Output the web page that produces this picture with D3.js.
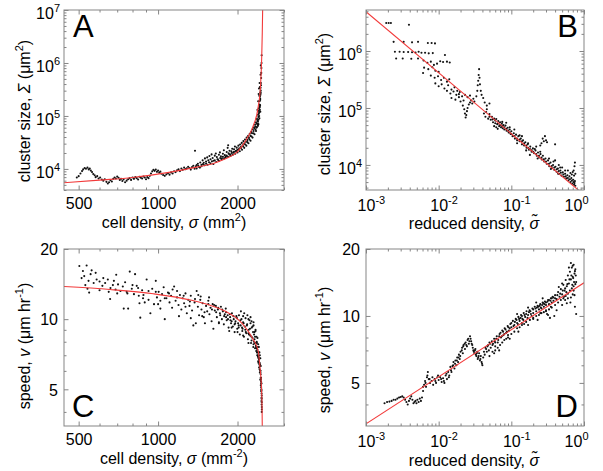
<!DOCTYPE html>
<html><head><meta charset="utf-8">
<script src="https://cdn.jsdelivr.net/npm/d3@7"></script>
<style>
body{margin:0;background:#fff}
text{font-family:"Liberation Sans",Arial,Helvetica,sans-serif;fill:#000}
</style>
</head><body>
<svg id="chart" width="603" height="471"></svg>
<script>
// ---------- DATA ----------
// Panel A: cell density (mm^-2) vs cluster size (um^2)
const clusterVsDensity = [
[492,6900],[500,7300],[508,8200],[515,9100],[520,9800],[527,10400],[533,10100],[540,10600],[546,9800],[551,10200],[556,9300],[562,8700],[568,8000],[575,7600],[580,7000],[588,7300],[595,6600],[603,6900],[612,6300],[620,6000],[628,6400],[637,5700],[645,5300],[652,5600],[660,6100],[668,5800],[676,6500],[684,6900],[692,6600],[700,7200],[708,6800],[716,6200],[724,6500],[732,5900],[740,6300],[750,5600],[760,6000],[770,6400],[780,6700],[790,6200],[800,6900],[810,6500],[820,7000],[830,6700],[840,6300],[850,7100],[860,6800],[870,6600],[880,7200],[890,6900],[900,6400],[910,7000],[920,6700],[930,7400],[940,8200],[950,9000],[960,9600],[970,9200],[980,9700],[990,8800],[1000,9300],[1010,8500],[1020,8900],[1030,8100],[1045,7700],[1060,7400],[1075,7900],[1090,8300],[1105,7800],[1120,8600],[1135,8200],[1150,9000],[1165,8700],[1180,9400],[1195,9800],[1210,9100],[1225,10200],[1240,9600],[1255,10600],[1270,9900],[1285,10300],[1300,11000],[1315,10400],[1330,9700],[1345,10800],[1360,11500],[1375,10100],[1380,22000],[1390,11200],
[1400,11800],[1415,12500],[1430,10900],[1445,13200],[1460,12000],[1475,14500],[1490,13100],[1505,15800],[1520,13800],[1535,16500],[1550,14600],[1565,17500],[1580,15200],[1595,18800],[1610,16100],[1625,14300],[1640,17800],[1655,19600],[1670,16700],[1685,15000],[1700,18500],[1715,20500],[1730,17300],[1745,15800],[1760,19300],[1775,22500],[1790,18200],[1805,16900],[1820,20800],[1835,25000],[1843,28000],[1850,19800],[1865,22000],[1880,18600],[1895,21500],[1910,24000],[1925,20300],[1940,23500],[1955,26500],[1970,21800],[1985,25200],[2000,23000],[2015,27500],[2030,24500],[2045,29000],[2060,26000],[2075,31000],[2090,28000],[2105,33500],[2120,30000],[2135,36000],[2150,32500],[2165,39000],[2180,35000],[2195,42000],[2210,38500],[2225,46000],[2240,42000],[2255,50000],[2270,47000],[2285,56000],[2300,52000],[2310,61000],[2320,58000],[2330,68000],[2340,63000],[2350,76000],[2360,72000],[2370,88000],[2380,82000],[2390,105000],[2400,96000],[2405,125000],[2410,140000],[2415,118000],[2420,165000],[2425,190000],[2428,150000],[2432,230000],[2436,200000],[2440,280000],[2443,250000],[2446,340000],[2449,300000],[2452,420000],[2455,380000],[2458,520000],[2460,650000],[2463,800000],[2466,1000000],[2468,1400000],
[2380,130000],[2395,190000],[2405,260000],[2412,330000],[2418,240000],[2425,420000],[2430,350000],[2400,70000],[2390,65000],[2420,90000],[2435,160000],[2445,600000],[2450,900000],[2440,120000],
[1400,10200],[1420,11500],[1440,10600],[1460,11200],[1480,12300],[1500,11700],[1520,12600],[1540,12000],[1560,13400],[1580,12800],[1600,13900],[1620,12400],[1640,14600],[1660,13500],[1680,15200],[1700,14300],[1720,16000],[1740,15100],[1760,17000],[1780,15800],[1800,16500],[1820,17800],[1840,16900],[1860,18900],[1880,17600],[1900,20000],[1920,18500],[1940,21000],[1960,19400],[1980,22000],[2000,20500],[2020,23200],[2040,21600],[2060,24500],[2080,23000],[2100,26500],[2120,25000],[2140,29000],[2160,27500],[2180,32000],[2200,30500],[2220,36000],[2240,34000],[2260,41000],[2280,39000],[2300,47000],[2320,45000],[2340,55000],[2360,60000],[2380,70000],[2400,85000],[2415,100000],[2430,130000],[2350,52000],[2370,62000],[2390,78000],[2410,110000],[2425,145000],[2438,210000],[2448,270000]
];
const clusterFit = [[440,5470],[600,6150],[800,6900],[942,7650],[1100,8600],[1244,9600],[1400,10800],[1619,12700],[1800,15500],[2000,21100],[2153,35000],[2287,62600],[2396,150000],[2447,410000],[2470,1300000],[2482,3700000],[2490,10000000]];

// Panel B: reduced density vs cluster size
const clusterVsReduced = [
[0.0019,3.1e6],[0.00205,3.1e6],[0.0022,3.1e6],[0.0039,2.9e6],
[0.0024,1.45e6],[0.0033,1.45e6],[0.0043,1.42e6],[0.0052,1.45e6],[0.0071,1.38e6],[0.0080,1.38e6],[0.0089,1.36e6],
[0.0025,9.7e5],[0.0029,9.7e5],[0.0033,9.6e5],[0.0038,9.6e5],[0.0043,9.5e5],[0.0048,9.4e5],[0.0053,9.7e5],[0.0058,9.3e5],[0.0065,9.3e5],[0.0073,9.1e5],[0.0083,9.2e5],
[0.0026,7.4e5],[0.0032,7.4e5],[0.0042,7.3e5],[0.0052,7.4e5],
[0.0122,8.5e5],[0.0105,6.6e5],[0.0115,6.4e5],[0.013,6.5e5],[0.0142,6.3e5],
[0.0062,6.8e5],[0.0070,6.2e5],[0.0078,6.5e5],[0.0086,5.7e5],[0.0095,6.0e5],
[0.0063,5.1e5],[0.0072,4.8e5],[0.0082,5.2e5],[0.0090,4.5e5],[0.0061,4.1e5],[0.010,4.3e5],
[0.0078,3.7e5],[0.0088,3.4e5],[0.0098,3.6e5],[0.0108,3.1e5],[0.0118,3.4e5],[0.013,2.9e5],[0.014,3.2e5],
[0.009,2.7e5],[0.010,2.4e5],[0.011,2.6e5],[0.012,2.2e5],[0.0135,2.5e5],[0.015,2.1e5],[0.0165,2.3e5],[0.018,2.0e5],[0.0195,1.9e5],
[0.013,2.0e5],[0.0145,1.8e5],[0.016,1.95e5],[0.0175,1.7e5],[0.019,1.75e5],[0.021,1.6e5],[0.023,1.7e5],[0.025,1.55e5],[0.027,1.65e5],
[0.015,1.5e5],[0.017,1.4e5],[0.019,1.55e5],[0.022,1.35e5],[0.020,1.3e5],
[0.0215,1.1e5],[0.0225,9.5e4],[0.023,8.0e4],[0.0235,6.8e4],[0.024,7.5e4],[0.0245,8.8e4],[0.025,1.0e5],[0.026,1.15e5],[0.027,1.25e5],[0.028,1.35e5],[0.029,1.2e5],[0.030,1.45e5],[0.031,1.3e5],
[0.033,1.6e5],[0.034,2.0e5],[0.0345,2.5e5],[0.035,3.0e5],[0.0355,3.8e5],[0.036,4.8e5],[0.0365,3.4e5],[0.037,2.6e5],[0.038,2.0e5],[0.039,1.7e5],[0.041,1.5e5],[0.043,1.25e5],[0.046,1.1e5],[0.050,1.2e5],
[0.042,8.0e4],[0.044,7.0e4],[0.046,9.5e4],[0.048,6.5e4],[0.05,7.8e4],[0.052,6.2e4],[0.054,7.0e4],[0.056,5.6e4],[0.058,6.5e4],[0.06,5.4e4],[0.062,6.4e4],[0.064,5.2e4],[0.066,5.9e4],[0.068,4.8e4],[0.07,5.6e4],[0.072,4.6e4],[0.074,5.3e4],[0.076,4.4e4],[0.078,5.0e4],[0.08,4.2e4],[0.083,4.9e4],[0.086,4.0e4],[0.089,4.5e4],[0.092,3.7e4],[0.095,4.2e4],[0.098,3.5e4],[0.1,3.9e4],[0.104,3.2e4],[0.108,3.6e4],[0.112,2.9e4],[0.116,3.4e4],[0.12,2.7e4],[0.125,3.2e4],[0.13,2.6e4],[0.135,2.9e4],[0.14,2.3e4],[0.145,2.7e4],[0.15,2.2e4],[0.156,2.5e4],[0.162,2.0e4],[0.168,2.3e4],[0.175,1.85e4],[0.182,2.1e4],[0.19,1.7e4],[0.198,1.95e4],[0.206,1.6e4],[0.215,1.8e4],[0.224,1.45e4],[0.233,1.65e4],[0.242,1.35e4],[0.252,1.55e4],[0.262,1.25e4],[0.272,1.45e4],[0.283,1.15e4],[0.295,1.3e4],[0.307,1.05e4],[0.32,1.2e4],[0.333,9.5e3],[0.346,1.1e4],[0.36,8.8e3],[0.375,1.0e4],[0.39,8.2e3],[0.405,9.3e3],[0.42,7.6e3],[0.437,8.6e3],[0.455,7.0e3],[0.473,8.0e3],[0.49,6.5e3],[0.51,7.4e3],[0.53,6.2e3],[0.55,7.0e3],[0.57,5.8e3],[0.59,6.6e3],[0.61,5.4e3],[0.63,6.3e3],[0.65,5.0e3],[0.67,5.9e3],[0.69,4.7e3],[0.71,5.5e3],[0.73,4.5e3],[0.75,5.2e3],[0.76,4.3e3],
[0.26,2.4e4],[0.27,2.9e4],[0.28,2.6e4],[0.29,3.2e4],[0.30,2.7e4],[0.31,2.5e4],[0.25,2.2e4],[0.40,2.3e4],
[0.72,8.0e3],[0.74,9.5e3],[0.75,1.1e4],[0.76,7.0e3],[0.73,6.5e3],[0.70,7.5e3],[0.68,6.8e3],
[0.065,4.3e4],[0.085,5.5e4],[0.11,4.2e4],[0.14,3.2e4],[0.18,1.5e4],[0.22,2.1e4],[0.40,1.2e4],[0.45,1.0e4],[0.50,9.0e3],[0.60,8.0e3],[0.058,4.8e4],
[0.045,8.5e4],[0.05,7.0e4],[0.055,6.3e4],[0.06,6.0e4],[0.065,5.3e4],[0.07,5.0e4],[0.075,4.8e4],[0.08,4.6e4],[0.085,4.3e4],[0.09,4.0e4],[0.095,3.7e4],[0.1,3.5e4],[0.11,3.2e4],[0.12,2.9e4],[0.13,2.8e4],[0.14,2.6e4],[0.15,2.4e4],[0.16,2.2e4],[0.17,2.0e4],[0.18,1.9e4],[0.19,1.8e4],[0.2,1.7e4],[0.22,1.55e4],[0.24,1.45e4],[0.26,1.35e4],[0.28,1.25e4],[0.3,1.15e4],[0.33,1.05e4],[0.36,9.6e3],[0.39,9.0e3],[0.42,8.4e3],[0.45,7.8e3],[0.48,7.3e3],[0.52,6.8e3],[0.56,6.3e3],[0.6,5.9e3],[0.64,5.6e3],[0.68,5.3e3],[0.72,5.0e3],[0.74,4.8e3],[0.075,5.7e4],[0.095,4.6e4],[0.13,3.3e4],[0.17,2.4e4],[0.21,1.9e4],[0.25,1.7e4],[0.33,1.3e4],[0.38,1.15e4],[0.47,9.0e3],[0.55,8.0e3],[0.65,7.2e3],[0.062,4.6e4],[0.12,2.4e4],[0.16,1.8e4],[0.23,1.3e4],[0.35,8.5e3],[0.44,7.0e3]
];
const clusterPowerFit = [[0.001,4.9e6],[1,2990]];

// Panel C: cell density vs speed (um/hr)
const speedVsDensity = [
[503,16.9],[536,17.0],[560,16.2],[519,16.1],[525,15.3],[513,15.0],[545,14.6],[570,14.3],[585,14.8],[530,14.0],[548,13.0],[600,14.5],[615,13.9],[630,14.3],[645,14.8],[658,12.2],[660,13.6],[674,14.0],[690,13.4],[694,15.5],[705,14.1],[720,13.2],[735,13.8],[741,11.1],[750,14.4],[765,12.9],[770,11.1],[781,16.0],[795,13.5],[810,12.8],[818,15.6],[830,13.9],[845,12.6],[856,10.15],[870,13.3],[877,12.3],[890,11.8],[905,14.8],[920,12.1],[935,10.6],[950,13.5],[965,11.6],[980,14.6],[990,12.4],[1005,13.1],[1020,11.1],[1035,12.8],[1050,13.7],[1060,10.0],[1075,12.3],[1090,13.0],[1105,11.8],[1120,12.6],[1135,13.4],[1150,13.8],[1165,12.0],[1180,13.2],[1195,11.5],[1210,12.7],[1225,11.0],[1240,12.3],[1255,11.7],[1270,12.9],[1285,10.6],[1300,12.1],[1315,11.4],[1330,12.6],[1345,10.9],[1360,9.4],[1375,11.8],[1390,9.6],[1400,13.2],[1415,11.3],[1430,10.4],[1445,12.1],[1460,11.0],[1475,11.7],[1490,10.2],[1505,9.6],[1520,11.4],[1535,10.8],[1550,12.0],[1565,10.5],[1580,11.2],[1595,9.8],[1610,11.6],[1620,9.1],[1640,10.9],[1655,11.4],[1670,10.2],[1685,11.0],[1700,9.7],[1715,10.6],[1730,11.3],[1745,10.0],[1760,10.8],[1775,9.5],[1790,10.5],[1805,11.1],[1820,9.9],[1835,10.4],[1850,9.2],[1860,8.9],[1875,10.2],[1890,9.6],[1905,10.6],[1920,9.3],[1935,10.0],[1950,8.8],[1965,9.8],[1980,10.3],[1995,9.1],[2010,9.6],[2025,10.4],[2040,8.6],[2055,9.4],[2070,10.0],[2085,8.9],[2100,9.7],[2115,8.4],[2130,9.3],[2145,10.1],[2160,8.7],[2175,9.5],[2190,8.2],[2205,9.0],[2220,9.9],[2235,8.5],[2250,7.9],[2265,9.2],[2280,8.3],[2295,7.6],[2310,8.6],[2325,7.9],[2340,8.9],[2355,7.3],[2365,8.0],[2375,7.0],[2385,7.6],[2395,6.6],[2405,7.2],[2415,6.2],[2420,6.8],[2430,5.9],[2435,6.4],[2440,5.5],[2445,6.0],[2450,5.2],[2455,5.6],[2460,4.9],[2463,5.3],[2466,4.6],[2468,4.3],[2470,4.0],[2465,4.45],
[1810,10.2],[1880,9.9],[1950,9.5],[2020,9.2],[2090,9.1],[2150,8.8],[2210,8.6],[2260,8.1],[2300,7.8],[2330,7.5],[2350,7.7],[2370,7.2],[2390,6.9],[2400,6.5],[2425,6.1],[2447,5.8],[2458,5.1],[2470,4.7],[2472,4.2],[2100,10.3],[2200,10.0],[2240,9.6],[2280,9.3],[2320,8.8],[2260,9.8],[2300,9.4],
[1600,11.0],[1630,11.5],[1660,10.7],[1690,11.2],[1720,10.4],[1750,11.0],[1780,10.3],[1810,10.7],[1840,10.0],[1870,10.5],[1900,9.8],[1930,10.3],[1960,9.6],[1990,10.1],[2020,9.4],[2050,9.9],[2080,9.2],[2110,9.6],[2140,9.0],[2170,9.4],[2200,8.7],[2230,9.1],[2260,8.4],[2290,8.8],[2310,8.0],[2330,8.4],[2350,7.6],[2370,7.9],[2385,7.2],[2400,6.9],[2412,6.7],[2425,6.5],[2437,6.0],[2448,5.6],[2456,5.4],[2462,5.0],[2467,4.8],[2471,4.4],[2473,4.1],[2240,10.2],[2180,10.4],[2120,10.6],[2060,10.8],[2300,9.7],[2340,9.0],[2380,8.3],[2410,7.6],[2430,7.0],[2450,6.3],[2440,6.8],[2200,7.9],[2100,8.5],[2000,8.8],[1900,9.2],[1700,9.6],[1500,10.7],[1550,11.6],[1450,12.5],[1380,12.2],[1320,11.9],[1250,12.6],[1180,12.4],[1100,12.9],[1020,12.0],[980,13.1],[920,13.2],[880,12.7],[840,13.6],[800,14.0],[760,13.1],[700,12.9],[650,13.1],[620,15.0],[580,15.8],[555,15.6],[540,13.5],[600,13.3],[680,14.6],[850,11.7],[1000,11.6],[1060,12.3],[1130,11.2],[1200,10.3],[1270,11.3],[1330,10.1],[1420,12.7],[1560,12.4],[1470,10.3],
[2320,8.2],[2345,7.9],[2360,7.5],[2378,7.4],[2392,7.0],[2402,6.8],[2418,6.4],[2428,6.3],[2442,5.9],[2452,5.5],[2459,5.3],[2464,4.95],[2469,4.55],[2360,8.4],[2395,7.8],[2420,7.2]
];
const speedFit = [[440,13.8],[658,13.4],[960,12.85],[1340,12.05],[1600,11.4],[1790,10.85],[2080,9.6],[2290,8.2],[2396,7.3],[2433,6.2],[2464,5.1],[2477,4.2],[2482,3.48]];

// Panel D: reduced density vs speed
const speedVsReduced = [
[0.0018,4.05],[0.00195,4.1],[0.0021,4.12],[0.00225,4.15],[0.0024,4.2],[0.00255,4.2],[0.0027,4.25],[0.00285,4.3],[0.0030,4.32],[0.00315,4.35],[0.0033,4.3],[0.00345,4.2],[0.0036,4.1],[0.00375,4.0],[0.0039,4.15],[0.00405,4.25],[0.0042,4.35],[0.00435,4.2],[0.0045,4.05],[0.00465,4.1],[0.0048,4.15],[0.00495,4.05],[0.0051,4.2],[0.0053,4.1],[0.0055,4.25],[0.0057,4.15],[0.0059,4.3],
[0.0061,4.6],[0.0063,4.9],[0.0065,5.1],[0.0067,4.8],[0.0069,5.3],[0.0071,5.6],[0.0073,5.2],[0.0076,5.0],[0.0080,5.1],[0.0084,4.9],[0.0088,5.2],[0.0092,5.0],[0.0096,5.3],[0.010,5.15],[0.0105,5.3],[0.011,5.05],[0.0115,5.25],[0.012,5.0],[0.0125,5.4],[0.013,5.2],[0.0135,5.6],[0.014,5.4],[0.0145,5.9],[0.015,5.6],[0.0155,5.95],[0.016,6.2],[0.0165,5.8],[0.017,6.3],[0.0175,6.0],[0.018,6.5],[0.0185,6.2],[0.019,6.7],[0.0195,6.4],[0.020,6.9],[0.021,7.2],[0.0215,6.8],[0.022,7.4],[0.023,7.1],[0.0235,7.6],[0.0245,7.3],[0.025,7.8],[0.026,7.5],[0.027,8.1],[0.028,7.7],[0.029,7.4],[0.030,7.0],[0.031,6.8],[0.032,7.1],[0.033,6.6],[0.034,6.9],[0.035,6.5],[0.036,6.8],[0.037,6.3],[0.038,6.6],[0.039,6.2],[0.040,6.0],[0.041,6.5],[0.042,6.9],[0.044,7.2],[0.046,6.9],[0.048,7.4],[0.050,7.6],[0.052,7.2],[0.054,7.7],[0.056,7.5],[0.058,7.9],[0.060,7.6],[0.063,8.1],[0.066,7.8],[0.069,8.3],[0.072,8.0],[0.075,8.6],[0.078,8.2],[0.081,8.8],[0.085,8.4],[0.089,9.0],[0.093,8.6],[0.097,9.2],[0.10,8.9],[0.105,9.5],[0.11,9.1],[0.115,9.7],[0.12,9.3],[0.125,9.9],[0.13,9.5],[0.136,10.1],[0.142,9.7],[0.148,10.3],[0.155,9.9],[0.162,10.5],[0.17,10.1],[0.178,10.6],[0.186,10.2],[0.195,10.8],[0.20,10.3],[0.21,11.0],[0.22,10.5],[0.23,11.1],[0.24,10.7],[0.25,11.3],[0.26,10.8],[0.27,11.5],[0.28,11.0],[0.29,11.6],[0.30,11.2],[0.31,10.2],[0.32,11.8],[0.33,11.3],[0.34,9.8],[0.35,12.0],[0.36,11.5],[0.37,12.2],[0.38,11.7],[0.39,10.0],[0.40,12.4],[0.42,11.9],[0.44,12.8],[0.46,12.2],[0.48,13.2],[0.50,12.5],[0.52,13.8],[0.54,13.0],[0.56,14.5],[0.58,13.6],[0.60,15.2],[0.62,14.0],[0.64,15.8],[0.66,14.6],[0.68,16.5],[0.70,15.0],[0.72,17.0],[0.74,15.5],[0.76,16.2],[0.78,14.2],[0.60,12.0],[0.65,11.5],[0.70,12.5],[0.75,11.0],[0.78,10.2],[0.72,13.0],[0.55,11.8],[0.50,14.0],[0.45,13.5],[0.66,17.3],[0.70,16.8],[0.62,16.5],
[0.0061,4.8],[0.0066,5.0],[0.007,5.4],[0.0075,5.2],[0.0082,5.3],[0.009,5.1],[0.0098,5.4],[0.0108,5.2],[0.0118,5.1],[0.0128,5.5],[0.0138,5.3],[0.0148,5.7],[0.0158,6.0],[0.0168,6.1],[0.0178,6.3],[0.0188,6.5],[0.0198,6.6],[0.0208,7.0],[0.0218,7.3],[0.0228,7.5],[0.024,7.4],[0.0255,7.9],[0.0265,7.7],[0.0275,7.9],[0.0285,7.5],[0.0295,7.2],[0.0305,6.9],[0.0315,7.0],[0.0325,6.7],[0.0335,6.8],[0.0345,6.4],[0.0355,6.6],[0.0375,6.4],[0.0395,6.1],[0.043,6.7],[0.045,7.1],[0.047,7.3],[0.049,7.0],[0.051,7.5],[0.055,7.4],[0.059,7.7],[0.062,7.9],[0.065,7.6],[0.068,8.1],[0.071,8.4],[0.074,8.1],[0.077,8.5],[0.08,8.3],[0.083,8.7],[0.087,8.5],[0.091,8.9],[0.095,8.8],[0.1,9.3],[0.107,9.0],[0.112,9.4],[0.118,9.6],[0.123,9.2],[0.128,9.7],[0.134,9.8],[0.14,10.0],[0.146,9.6],[0.152,10.1],[0.16,10.2],[0.167,9.8],[0.175,10.4],[0.183,10.5],[0.19,10.0],[0.2,10.7],[0.215,10.8],[0.225,10.9],[0.235,11.0],[0.245,11.1],[0.255,10.9],[0.265,11.2],[0.275,11.4],[0.285,11.3],[0.3,11.5],[0.315,11.6],[0.33,11.8],[0.345,11.7],[0.36,12.0],[0.38,12.1],[0.4,12.0],[0.43,12.4],[0.47,12.6],[0.51,13.0],[0.55,13.3],[0.59,13.9],[0.63,14.6],[0.67,15.2],[0.71,14.8],[0.75,15.9],[0.77,15.2],[0.69,13.8],[0.73,14.2],[0.57,12.8],[0.53,12.2],[0.14,9.3],[0.2,9.7],[0.25,10.3],[0.09,8.2],[0.06,7.3],[0.3,10.6],[0.35,11.0],[0.12,10.2],[0.17,10.9],[0.22,11.5],[0.27,12.0],
[0.05,6.6],[0.055,6.9],[0.06,7.0],[0.065,7.2],[0.07,7.4],[0.075,7.6],[0.08,7.8],[0.085,7.9],[0.09,8.0],[0.1,8.3],[0.11,8.5],[0.12,8.8],[0.13,8.9],[0.14,9.1],[0.15,9.2],[0.16,9.4],[0.18,9.6],[0.2,9.8],[0.22,10.0],[0.24,10.1],[0.26,10.3],[0.28,10.4],[0.3,10.5],[0.33,10.7],[0.36,10.9],[0.4,11.2],[0.44,11.5],[0.48,11.8],[0.52,12.0],[0.56,12.3],[0.6,12.6],[0.64,13.0],[0.68,13.3],[0.72,13.6],[0.76,13.9],[0.058,6.8],[0.068,7.0],[0.095,7.9],[0.125,8.5],[0.17,9.1],[0.23,9.6],[0.32,10.1],[0.42,10.6],[0.5,11.2],[0.58,11.4],[0.66,12.1],[0.74,12.4]
];
const speedPowerFit = [[0.001,3.27],[1,14.1]];

// Tick labels
const densityTicks = [500, 1000, 2000];
const clusterTicks = [1e4, 1e5, 1e6, 1e7];
const clusterTicksB = [1e4, 1e5, 1e6];
const reducedTicks = [1e-3, 1e-2, 1e-1, 1];
const speedTicks = [5, 10, 20];

// ---------- DRAWING ----------
const svg = d3.select("#chart");
const FRAME = "#858585";

function rich(sel, parts, supSize) {
  let raised = false;
  parts.forEach(([t, kind]) => {
    const ts = sel.append("tspan").text(t);
    if (kind === "i") ts.attr("font-style", "italic");
    if (kind === "s") {
      ts.attr("font-size", supSize);
      if (!raised) { ts.attr("dy", -7); raised = true; }
    } else if (raised) {
      ts.attr("dy", 7); raised = false;
    }
  });
}

function powLabel(sel, d) {
  sel.text(null);
  rich(sel, [["10", ""], [String(Math.round(Math.log10(d))), "s"]], 11);
}

function drawPanel(p) {
  const x = d3.scaleLog().domain(p.xDomain).range([p.L, p.R]);
  const y = d3.scaleLog().domain(p.yDomain).range([p.B, p.T]);
  const g = svg.append("g");
  const clipId = "clip-" + p.id;
  g.append("clipPath").attr("id", clipId).append("rect")
    .attr("x", p.L).attr("y", p.T).attr("width", p.R - p.L).attr("height", p.B - p.T);
  const plot = g.append("g").attr("clip-path", `url(#${clipId})`);
  plot.append("g").selectAll("circle").data(p.points).join("circle")
    .attr("cx", d => x(d[0])).attr("cy", d => y(d[1])).attr("r", 1.05).attr("fill", "#111");
  plot.append("path").datum(p.fit)
    .attr("d", d3.line().x(d => x(d[0])).y(d => y(d[1])).curve(d3.curveMonotoneX))
    .attr("fill", "none").attr("stroke", "#f23a3a").attr("stroke-width", 1.1);

  const near = (a, b) => Math.abs(a - b) / b < 1e-6;
  const xMinor = x.ticks().filter(v => !p.xMajor.some(m => near(v, m)));
  const yMinor = y.ticks().filter(v => !p.yMajor.some(m => near(v, m)));

  const sides = [
    {fn: d3.axisBottom, s: x, tr: `translate(0,${p.B})`, major: p.xMajor, minor: xMinor, lab: true},
    {fn: d3.axisTop, s: x, tr: `translate(0,${p.T})`, major: p.xMajor, minor: xMinor, lab: false},
    {fn: d3.axisLeft, s: y, tr: `translate(${p.L},0)`, major: p.yMajor, minor: yMinor, lab: true},
    {fn: d3.axisRight, s: y, tr: `translate(${p.R},0)`, major: p.yMajor, minor: yMinor, lab: false}
  ];
  sides.forEach((sd, i) => {
    const gm = g.append("g").attr("transform", sd.tr)
      .call(sd.fn(sd.s).tickValues(sd.minor).tickSizeInner(-2.5).tickSizeOuter(0).tickFormat(""));
    gm.select(".domain").remove();
    gm.selectAll("line").attr("stroke", FRAME);
    gm.selectAll("text").remove();
    const ax = sd.fn(sd.s).tickValues(sd.major).tickSizeInner(-4.5).tickSizeOuter(0).tickPadding(4)
      .tickFormat(sd.lab ? (i === 0 ? p.xFmt : p.yFmt) : "");
    const gM = g.append("g").attr("transform", sd.tr).call(ax)
      .attr("font-family", null).attr("font-size", 16);
    gM.select(".domain").remove();
    gM.selectAll("line").attr("stroke", FRAME);
    gM.selectAll("text").attr("fill", "#000");
    if (!sd.lab) gM.selectAll("text").remove();
    if (sd.lab && i === 0) p.xLabels(gM.selectAll(".tick text"), x);
    if (sd.lab && i === 2) p.yLabels(gM.selectAll(".tick text"));
  });

  g.append("rect").attr("x", p.L).attr("y", p.T).attr("width", p.R - p.L).attr("height", p.B - p.T)
    .attr("fill", "none").attr("stroke", FRAME).attr("stroke-width", 1);

  // titles
  const xt = g.append("text").attr("x", p.xTitlePos[0]).attr("y", p.xTitlePos[1])
    .attr("text-anchor", "middle").attr("font-size", 16);
  rich(xt, p.xTitle, 11);
  const yt = g.append("text").attr("transform", `translate(${p.yTitlePos[0]},${p.yTitlePos[1]}) rotate(-90)`)
    .attr("text-anchor", "middle").attr("font-size", 16);
  rich(yt, p.yTitle, 11);
  g.append("text").attr("x", p.letter[1]).attr("y", p.letter[2]).attr("text-anchor", p.letter[3])
    .attr("font-size", 31).text(p.letter[0]);
}

const plainX = sel => sel.attr("y", 18.5).attr("dy", null);
const powX = (sel, x) => sel.attr("dy", null).attr("y", 21).attr("text-anchor", "start")
  .each(function(d) {
    powLabel(d3.select(this), d);
    const base = 17.8, w = this.getComputedTextLength();
    let off = -base / 2;
    if (x(d) + off + w > 588) off = 588 - w - x(d);
    d3.select(this).attr("x", off);
  });
const powY = sel => sel.attr("dy", null).attr("y", 8.5).attr("x", -4).each(function(d) { powLabel(d3.select(this), d); });
const plainY = sel => sel.attr("dy", null).attr("y", 5.8).attr("x", -6);

const densityFmt = d3.format("d");
const sigma = "\u03C3";
const sigmaTilde = "\u03C3\u0303";

drawPanel({
  id: "A", L: 64, R: 284, T: 10, B: 190,
  xDomain: [440, 3000], yDomain: [4000, 1e7],
  points: clusterVsDensity, fit: clusterFit,
  xMajor: densityTicks, yMajor: clusterTicks,
  xFmt: densityFmt, yFmt: d => d, xLabels: plainX, yLabels: powY,
  xTitle: [["cell density, ", ""], [sigma, "i"], [" (mm", ""], ["2", "s"], [")", ""]],
  yTitle: [["cluster size, ", ""], ["\u03A3", "i"], [" (\u03BCm", ""], ["2", "s"], [")", ""]],
  xTitlePos: [174, 227.5], yTitlePos: [30, 111],
  letter: ["A", 73, 37, "start"]
});
drawPanel({
  id: "B", L: 366, R: 584, T: 10, B: 190,
  xDomain: [1e-3, 1], yDomain: [3630, 5.25e6],
  points: clusterVsReduced, fit: clusterPowerFit,
  xMajor: reducedTicks, yMajor: clusterTicksB,
  xFmt: d => d, yFmt: d => d, xLabels: powX, yLabels: powY,
  xTitle: [["reduced density, ", ""], [sigmaTilde, "i"]],
  yTitle: [["cluster size, ", ""], ["\u03A3", "i"], [" (\u03BCm", ""], ["2", "s"], [")", ""]],
  xTitlePos: [474, 229], yTitlePos: [330, 104],
  letter: ["B", 578, 37, "end"]
});
drawPanel({
  id: "C", L: 64, R: 284, T: 249, B: 426,
  xDomain: [440, 3000], yDomain: [3.48, 20],
  points: speedVsDensity, fit: speedFit,
  xMajor: densityTicks, yMajor: speedTicks,
  xFmt: densityFmt, yFmt: d3.format("d"), xLabels: plainX, yLabels: plainY,
  xTitle: [["cell density, ", ""], [sigma, "i"], [" (mm", ""], ["-2", "s"], [")", ""]],
  yTitle: [["speed, ", ""], ["v", "i"], [" (\u03BCm hr", ""], ["-1", "s"], [")", ""]],
  xTitlePos: [174, 463.5], yTitlePos: [30, 346],
  letter: ["C", 72, 417, "start"]
});
drawPanel({
  id: "D", L: 366, R: 584, T: 249, B: 426,
  xDomain: [1e-3, 1], yDomain: [3.2, 20],
  points: speedVsReduced, fit: speedPowerFit,
  xMajor: reducedTicks, yMajor: speedTicks,
  xFmt: d => d, yFmt: d3.format("d"), xLabels: powX, yLabels: plainY,
  xTitle: [["reduced density, ", ""], [sigmaTilde, "i"]],
  yTitle: [["speed, ", ""], ["v", "i"], [" (\u03BCm hr", ""], ["-1", "s"], [")", ""]],
  xTitlePos: [474, 466], yTitlePos: [330, 350],
  letter: ["D", 578, 417, "end"]
});
</script>
</body></html>
